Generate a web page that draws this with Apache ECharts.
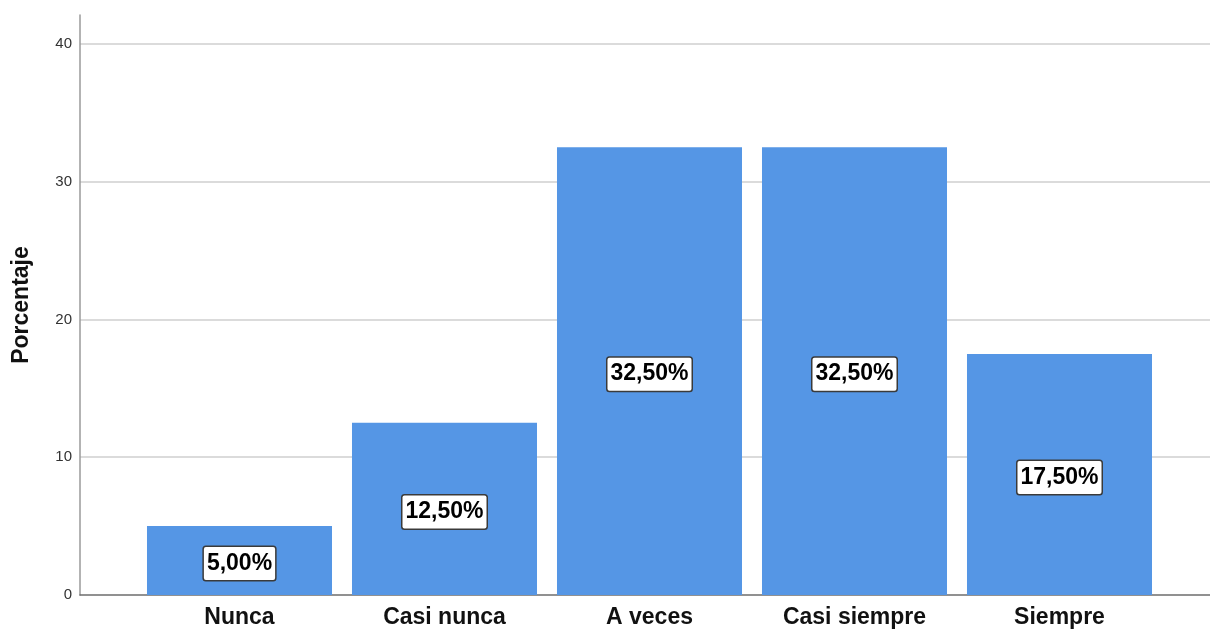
<!DOCTYPE html>
<html>
<head>
<meta charset="utf-8">
<script src="https://cdn.jsdelivr.net/npm/echarts@6/dist/echarts.min.js"></script>
<style>
  html, body { margin: 0; padding: 0; background: #fff; }
  #chart { width: 1210px; height: 629px; }
</style>
</head>
<body>
<div id="chart"></div>
<script>
// Frequency categories and their percentages
const categories = ['Nunca', 'Casi nunca', 'A veces', 'Casi siempre', 'Siempre'];
const percentages = [5.0, 12.5, 32.5, 32.5, 17.5];
const axisTitle = 'Porcentaje';
const yInterval = 10;
const yMax = 42.1;

const FONT = '"Liberation Sans", Arial, sans-serif';

function pct(v) {
  return v.toFixed(2).replace('.', ',') + '%';
}

const chart = echarts.init(document.getElementById('chart'), null, { renderer: 'canvas' });

chart.setOption({
  backgroundColor: '#ffffff',
  animation: false,
  grid: [
    // frame: value axis, gridlines and baseline across the full width
    { left: 80, right: 0, top: 15, bottom: 34 },
    // bars sit in an inset band
    { left: 137, right: 48, top: 15, bottom: 34 }
  ],
  xAxis: [
    {
      gridIndex: 0, type: 'value', min: 0, max: 1,
      axisLine: { show: true, lineStyle: { color: '#6e6e6e', width: 1.5 } },
      axisTick: { show: false }, axisLabel: { show: false }, splitLine: { show: false }
    },
    {
      gridIndex: 1, type: 'category', data: categories,
      axisLine: { show: false }, axisTick: { show: false },
      axisLabel: {
        margin: 11, fontFamily: FONT, fontSize: 23, fontWeight: 'bold', color: '#111'
      }
    }
  ],
  yAxis: [
    {
      gridIndex: 0, type: 'value', min: 0, max: yMax, interval: yInterval,
      name: axisTitle, nameLocation: 'middle', nameGap: 47, nameRotate: 90,
      nameTextStyle: { fontFamily: FONT, fontSize: 23, fontWeight: 'bold', color: '#111' },
      axisLine: { show: true, lineStyle: { color: '#9a9a9a', width: 1.5 } },
      axisTick: { show: false },
      axisLabel: {
        margin: 8, fontFamily: FONT, fontSize: 15, color: '#333',
        showMaxLabel: false
      },
      splitLine: {
        show: true, showMinLine: false, showMaxLine: false,
        lineStyle: { color: '#cfcfcf', width: 1.5 }
      }
    },
    {
      gridIndex: 1, type: 'value', min: 0, max: yMax, interval: yInterval, show: false,
      splitLine: { show: false }
    }
  ],
  series: [
    {
      type: 'bar',
      xAxisIndex: 1, yAxisIndex: 1,
      data: percentages,
      barCategoryGap: '9.75%',
      itemStyle: { color: '#5596e5' },
      label: {
        show: true,
        position: 'inside',
        offset: [0, 3],
        formatter: p => pct(p.value),
        fontFamily: FONT, fontSize: 23, fontWeight: 'bold', color: '#000',
        backgroundColor: '#ffffff',
        borderColor: '#3a3a3a', borderWidth: 1.5, borderRadius: 2,
        padding: [6, 3, 4, 3]
      }
    }
  ]
});
</script>
</body>
</html>
